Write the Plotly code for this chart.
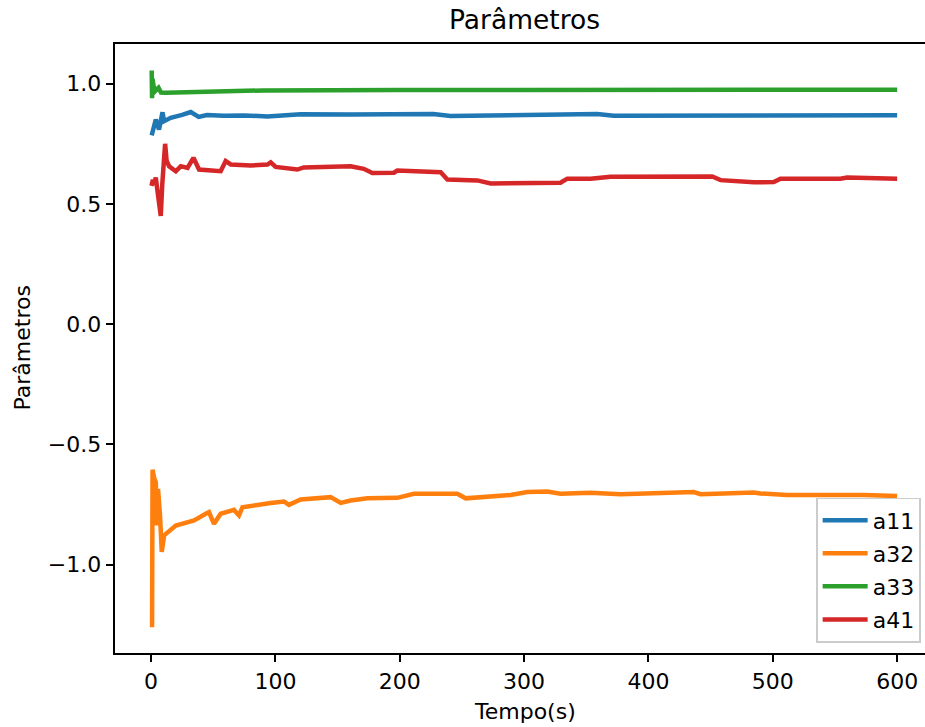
import plotly.graph_objects as go

# Estimated parameter trajectories over time (s)
t_a11 = [0.5, 1.1, 3.8, 6.4, 9.2, 10.5, 15.8, 25, 31.9, 38.3, 45, 58.4, 75, 93.6,
         120.3, 160, 200, 227, 240.8, 300, 347.8, 358.8, 372, 450, 520, 600]
a11 = [0.785, 0.80, 0.851, 0.809, 0.881, 0.844, 0.858, 0.870, 0.882, 0.862, 0.870,
       0.867, 0.868, 0.864, 0.873, 0.872, 0.872, 0.874, 0.866, 0.869, 0.872, 0.874,
       0.867, 0.868, 0.869, 0.869]

t_a32 = [0.8, 1.2, 2.5, 3.8, 4.6, 5.6, 7.2, 8.6, 10.5, 15.8, 19.9, 34.6, 38.6, 44,
         46.6, 50.6, 56, 64.1, 66.7, 70.7, 73.5, 96.2, 106.9, 110.9, 115, 120.3,
         144.4, 152.5, 160.5, 174, 198, 211.4, 246.3, 253, 289.1, 302.6, 318.6,
         329.3, 353.5, 377.6, 436.5, 441.9, 484.7, 490.1, 511.6, 565.1, 573.2, 600]
a32 = [-1.26, -0.605, -0.64, -0.657, -0.837, -0.685, -0.795, -0.947, -0.878, -0.857,
       -0.837, -0.816, -0.802, -0.788, -0.781, -0.830, -0.788, -0.775, -0.772, -0.795,
       -0.761, -0.743, -0.737, -0.751, -0.741, -0.729, -0.719, -0.743, -0.733, -0.724,
       -0.722, -0.705, -0.705, -0.724, -0.710, -0.698, -0.696, -0.705, -0.701, -0.707,
       -0.698, -0.707, -0.700, -0.704, -0.710, -0.708, -0.710, -0.714]

t_a33 = [0.5, 0.8, 1.2, 2.0, 3.5, 6.0, 8.0, 12, 30, 50, 90, 200, 300, 450, 600]
a33 = [1.055, 0.94, 1.02, 0.99, 0.97, 0.983, 0.963, 0.962, 0.965, 0.968, 0.972,
       0.974, 0.975, 0.975, 0.975]

t_a41 = [0.3, 1.5, 2.5, 3.8, 5.0, 6.5, 7.8, 9.0, 10.0, 11.3, 12.5, 14.5, 19.9, 23.9,
         29.3, 34.1, 38.6, 56, 60, 64.1, 80.1, 93.6, 96.2, 100.2, 117.7, 122.7, 160.5,
         171, 178, 195.3, 198, 232.9, 238.3, 262.4, 273.1, 329.3, 334.7, 353.5, 369.5,
         409.7, 417.8, 451.3, 458, 484.7, 500.8, 506.2, 554.4, 559.8, 600]
a41 = [0.575, 0.60, 0.58, 0.61, 0.56, 0.50, 0.45, 0.58, 0.68, 0.75, 0.68, 0.657, 0.636,
       0.657, 0.650, 0.692, 0.643, 0.636, 0.678, 0.664, 0.66, 0.664, 0.673, 0.654,
       0.643, 0.652, 0.657, 0.646, 0.629, 0.630, 0.639, 0.632, 0.602, 0.598, 0.585,
       0.588, 0.605, 0.605, 0.613, 0.612, 0.615, 0.614, 0.599, 0.590, 0.591, 0.605,
       0.605, 0.610, 0.605]

series_names = ["a11", "a32", "a33", "a41"]
series_colors = ["#1f77b4", "#ff7f0e", "#2ca02c", "#d62728"]

x_ticks = [0, 100, 200, 300, 400, 500, 600]
y_ticks = [-1.0, -0.5, 0.0, 0.5, 1.0]
y_tick_labels = ["\u22121.0", "\u22120.5", "0.0", "0.5", "1.0"]

FONT = "DejaVu Sans"
FS = 22

fig = go.Figure()
for name, color, tx, vy in zip(series_names, series_colors,
                               [t_a11, t_a32, t_a33, t_a41], [a11, a32, a33, a41]):
    fig.add_trace(go.Scatter(x=tx, y=vy, mode="lines", name=name, legendgroup=name,
                             line=dict(color=color, width=4.5)))

axis_common = dict(
    showgrid=False, zeroline=False, showline=True, linecolor="black", linewidth=1.8,
    ticks="outside", ticklen=7.5, tickwidth=1.8, tickcolor="black",
    tickfont=dict(family=FONT, size=FS, color="black"),
)

fig.update_layout(
    width=925, height=727,
    margin=dict(l=115, r=0, t=44, b=74),
    paper_bgcolor="white", plot_bgcolor="white",
    font=dict(family=FONT, color="black"),
    title=dict(text="Parâmetros", font=dict(family=FONT, size=26.5, color="black"),
               xref="container", yref="container", x=524.5 / 925, xanchor="center",
               y=1 - 20 / 727, yanchor="middle"),
    xaxis=dict(range=[-29, 622.4], tickvals=x_ticks, mirror=True, **axis_common),
    yaxis=dict(range=[-1.367, 1.165], tickvals=y_ticks, ticktext=y_tick_labels,
               mirror=False, **axis_common),
    legend=dict(x=0.995, y=0.017, xanchor="right", yanchor="bottom",
                bgcolor="white", bordercolor="#cccccc", borderwidth=1.7,
                font=dict(family=FONT, size=FS, color="black"),
                traceorder="grouped", tracegroupgap=1.5, itemwidth=45),
    showlegend=True,
    annotations=[
        dict(text="Tempo(s)", xref="paper", yref="paper",
             x=(524.5 - 115) / 810, y=-(712 - 653.3) / 609.3,
             xanchor="center", yanchor="middle", showarrow=False,
             font=dict(family=FONT, size=FS, color="black")),
        dict(text="Parâmetros", xref="paper", yref="paper",
             x=-(115 - 22) / 810, y=0.5, textangle=-90,
             xanchor="center", yanchor="middle", showarrow=False,
             font=dict(family=FONT, size=FS, color="black")),
    ],
)

fig.write_html("out.html")
